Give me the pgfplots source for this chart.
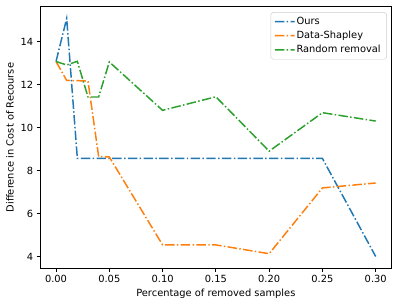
\documentclass[border=0pt]{standalone}
\usepackage{fontspec}
\setmainfont{DejaVu Sans}
\usepackage{pgfplots}
\pgfplotsset{compat=1.18}
\definecolor{tabblue}{HTML}{1F77B4}
\definecolor{taborange}{HTML}{FF7F0E}
\definecolor{tabgreen}{HTML}{2CA02C}
\tikzset{mpldashdot/.style={line width=1.5pt, dash pattern=on 9.6pt off 2.4pt on 1.5pt off 2.4pt}}
\begin{document}
\begin{tikzpicture}
\begin{axis}[
  scale only axis, width=356.6pt, height=265.3pt,
  xmin=-0.015, xmax=0.315, ymin=3.45, ymax=15.62,
  xtick={0,0.05,0.1,0.15,0.2,0.25,0.3},
  xticklabels={0.00,0.05,0.10,0.15,0.20,0.25,0.30},
  ytick={4,6,8,10,12,14},
  tick align=outside, tick pos=left, major tick length=3.5pt,
  tick style={black, line width=0.8pt},
  axis line style={line width=0.8pt},
  /pgf/number format/assume math mode=true,
  tick label style={font=\fontsize{10pt}{12pt}\selectfont},
  label style={font=\fontsize{10pt}{12pt}\selectfont},
  xlabel={Percentage of removed samples},
  ylabel={Difference in Cost of Recourse},
  legend style={at={(0.986,0.979)}, anchor=north east, draw=black!20, fill=white, rounded corners=2pt, font=\fontsize{10pt}{12pt}\selectfont, row sep=1.2pt, inner xsep=4pt, inner ysep=3pt},
  legend cell align=left,
  legend image code/.code={\path[#1, solid, fill, draw=none, rounded corners=0pt] (0pt,-0.75pt) rectangle (9.6pt,0.75pt) (12pt,-0.75pt) rectangle (13.5pt,0.75pt) (15.9pt,-0.75pt) rectangle (20pt,0.75pt);},
]
\addplot[mpldashdot, color=tabblue] coordinates {
(0,13.07) (0.01,15.07) (0.02,8.56) (0.03,8.56) (0.04,8.56) (0.05,8.56) (0.10,8.56) (0.15,8.56) (0.20,8.56) (0.25,8.56) (0.30,4.00)};
\addlegendentry{Ours}
\addplot[mpldashdot, color=taborange] coordinates {
(0,13.07) (0.01,12.19) (0.02,12.18) (0.03,12.16) (0.04,8.65) (0.05,8.63) (0.10,4.54) (0.15,4.54) (0.20,4.13) (0.25,7.19) (0.30,7.42)};
\addlegendentry{Data-Shapley}
\addplot[mpldashdot, color=tabgreen] coordinates {
(0,13.07) (0.01,12.91) (0.02,13.08) (0.03,11.42) (0.04,11.42) (0.05,13.05) (0.10,10.80) (0.15,11.43) (0.20,8.90) (0.25,10.69) (0.30,10.30)};
\addlegendentry{Random removal}
\end{axis}
\pgfresetboundingbox
\path[use as bounding box] ([shift={(-40.6pt,-38.2pt)}]current axis.south west) rectangle ([shift={(7.4pt,6.8pt)}]current axis.north east);
\end{tikzpicture}
\end{document}
